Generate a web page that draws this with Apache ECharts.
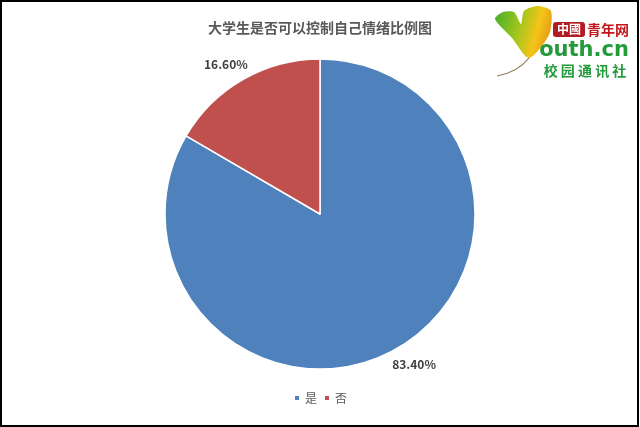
<!DOCTYPE html>
<html>
<head>
<meta charset="utf-8">
<script src="https://cdn.jsdelivr.net/npm/echarts@6/dist/echarts.min.js"></script>
<style>
html,body{margin:0;padding:0;background:#fff;}
#chart{width:640px;height:427px;}
</style>
</head>
<body>
<div id="chart"></div>
<script>
const titleText = '大学生是否可以控制自己情绪比例图';
const categories = ['是', '否'];
const values = [83.40, 16.60];
const colors = ['#4F81BD', '#C0504D'];

const chart = echarts.init(document.getElementById('chart'), null, {renderer: 'canvas'});
const font = '"Noto Sans CJK SC", "Noto Sans", sans-serif';

const option = {
  backgroundColor: '#ffffff',
  animation: false,
  title: {
    text: titleText,
    left: 'center',
    top: 16,
    textStyle: {fontFamily: font, fontSize: 14, fontWeight: 'bold', color: '#595959'}
  },
  legend: {
    data: categories,
    bottom: 18,
    left: 'center',
    icon: 'rect',
    itemWidth: 6,
    itemHeight: 6,
    itemGap: 6,
    textStyle: {fontFamily: font, fontSize: 12, color: '#595959'}
  },
  color: colors,
  series: [{
    type: 'pie',
    center: [320, 214],
    radius: 155,
    startAngle: 90,
    clockwise: true,
    avoidLabelOverlap: false,
    emphasis: {disabled: true},
    itemStyle: {borderColor: '#ffffff', borderWidth: 1.5},
    label: {
      show: true,
      position: 'outside',
      formatter: p => p.value.toFixed(2) + '%',
      fontFamily: font,
      fontSize: 12,
      fontWeight: 'bold',
      color: '#404040',
      distanceToLabelLine: -14
    },
    labelLine: {show: false, length: 18, length2: 0},
    data: categories.map((c, i) => ({name: c, value: values[i]}))
  }],
  graphic: [
    {type: 'rect', shape: {x: 1, y: 1, width: 637, height: 425}, style: {fill: 'none', stroke: '#000', lineWidth: 2}, z: 100},
    {type: 'polygon', shape: {smooth: 0.25, points: [[529,58],[512,38],[495,19],[503,12],[514,12],[521,24],[524,11],[538,6],[551,11],[549,35]]},
     style: {fill: {type: 'linear', x: 0, y: 0, x2: 1, y2: 0.3, colorStops: [{offset: 0, color: '#3fae2a'}, {offset: 0.5, color: '#a6c61c'}, {offset: 0.8, color: '#f4c418'}, {offset: 1, color: '#e8a21a'}]}}, z: 50},
    {type: 'bezierCurve', shape: {x1: 529, y1: 58, cpx1: 518, cpy1: 72, x2: 497, y2: 76}, style: {fill: 'none', stroke: '#8a7a50', lineWidth: 1.2}, z: 50},
    {type: 'rect', shape: {x: 553, y: 22, width: 32, height: 15, r: 3}, style: {fill: '#b01e23'}, z: 50},
    {type: 'text', style: {x: 569, y: 29.5, text: '中國', align: 'center', verticalAlign: 'middle', fill: '#ffffff', font: 'bold 12px "Noto Sans CJK TC", sans-serif'}, z: 51},
    {type: 'text', style: {x: 608, y: 29.5, text: '青年网', align: 'center', verticalAlign: 'middle', fill: '#c3161c', font: 'bold 14px "Noto Sans CJK SC", sans-serif'}, z: 51},
    {type: 'text', style: {x: 584, y: 51, text: 'outh.cn', align: 'center', verticalAlign: 'middle', fill: '#239a3b', font: 'bold 21px "DejaVu Sans", sans-serif'}, z: 51},
    {type: 'text', style: {x: 585, y: 71, text: '校 园 通 讯 社', align: 'center', verticalAlign: 'middle', fill: '#239a3b', font: 'bold 14px "Noto Sans CJK SC", sans-serif'}, z: 51}
  ]
};
chart.setOption(option);
</script>
</body>
</html>
